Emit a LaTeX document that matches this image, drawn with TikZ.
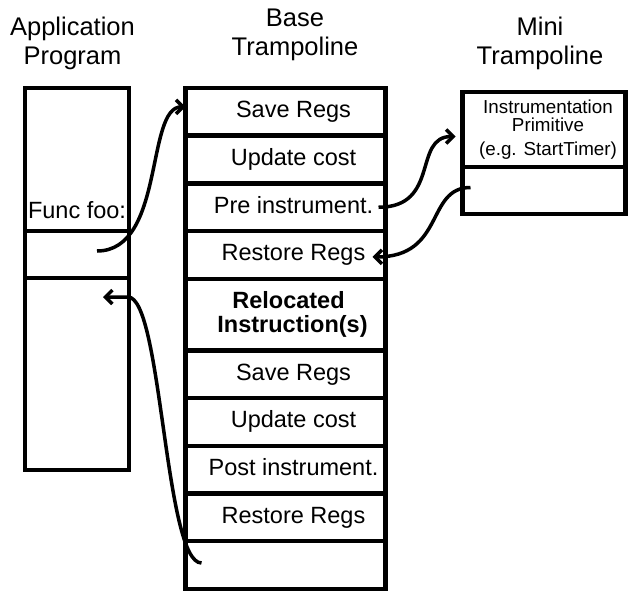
\documentclass[tikz,border=0pt]{standalone}
\usepackage{fontspec}
\setmainfont{Liberation Sans}
\usetikzlibrary{positioning,arrows.meta}

\tikzset{
	box/.style={draw,line width=4.5pt,inner sep=0pt,outer sep=0pt,anchor=north west,
		font=\fontsize{23.5}{25}\selectfont},
	entry/.style={box,minimum width=200pt,minimum height=47.7pt,text height=17pt,text depth=5pt,
		execute at begin node=\hspace*{16pt}},
	heading/.style={align=center,font=\fontsize{25.5}{29.5}\selectfont},
	jump/.style={line width=3.5pt,-{Straight Barb[length=7pt,width=14pt]}}
}

\begin{document}
\begin{tikzpicture}[x=1pt,y=-1pt]
			\useasboundingbox (0,0) rectangle (628,592);
			\def\rh{47.7}
			\def\bx{185.5}
			\def\by{88}

			% titles
			\node[heading] (apptitle) at (72.5,43.4) {Application\\Program};
			\node[heading] (basetitle) at (295,35) {Base\\Trampoline};
			\node[heading] (minititle) at (540,43.6) {Mini\\Trampoline};

			% application program
			\node[box,minimum width=104pt,minimum height=143pt,text height=130pt,text depth=13pt] (func) at (25,88) {Func foo:};
			\node[box,minimum width=104pt,minimum height=47pt] (call) at (25,231) {};
			\node[box,minimum width=104pt,minimum height=192pt] (rest) at (25,278) {};
			\coordinate (callsite) at (97,251);
			\coordinate (retsite) at (103,297);

			% base trampoline
			\foreach \k/\nm/\txt in {0/save1/Save Regs,1/cost1/Update cost,2/pre/Pre instrument.,3/restore1/Restore Regs,
				5.5/save2/Save Regs,6.5/cost2/Update cost,7.5/post/Post instrument.,8.5/restore2/Restore Regs,9.5/ret/}
				\node[entry] (\nm) at (\bx,{\by+\k*\rh}) {\txt};
			\node[box,minimum width=200pt,minimum height=1.5*\rh pt,align=center,
				font={\fontsize{23.5}{24}\selectfont\bfseries}] (reloc) at (\bx,{\by+4*\rh})
				{\hspace*{6pt}Relocated\\\hspace*{14pt}Instruction(s)};

			% mini trampoline
			\node[box,minimum width=163pt,minimum height=75pt,align=center,
				font=\fontsize{18.8}{18}\selectfont] (prim) at (462.5,92)
				{\hspace*{8pt}Instrumentation\\\hspace*{8pt}Primitive\\[6pt]\hspace*{8pt}(e.g. StartTimer)};
			\node[box,minimum width=163pt,minimum height=47pt] (mini2) at (462.5,167) {};

			\draw[jump] (callsite) .. controls +(68,0) and +(-40,0) .. ([yshift=5pt]save1.west);
			\draw[jump] ([xshift=-7pt]pre.east) .. controls +(62,0) and +(-43,0) .. ([xshift=-7pt,yshift=-7pt]prim.west);
			\draw[jump] ([xshift=8pt,yshift=3pt]mini2.west) .. controls +(-45,0) and +(73,0) .. ([xshift=-13pt,yshift=-2pt]restore1.east);
			\draw[jump] ([xshift=16pt,yshift=2pt]ret.west) .. controls +(-37,0) and +(34,0) .. ([xshift=25pt]retsite) -- (retsite);
		\end{tikzpicture}
\end{document}
